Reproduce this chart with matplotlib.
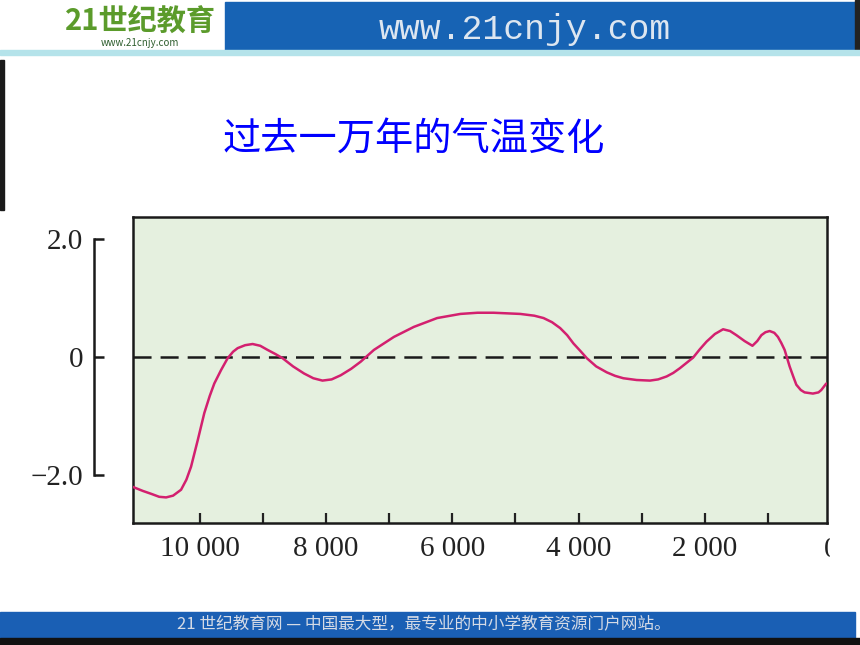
import matplotlib.pyplot as plt
from matplotlib.patches import Rectangle
import numpy as np

plt.rcParams['font.family'] = ['Noto Sans CJK SC', 'DejaVu Sans']
plt.rcParams['lines.scale_dashes'] = False

# years before present and temperature anomaly
years = [11063, 10900, 10766, 10640, 10531, 10420, 10294, 10210, 10136, 10030,
         9926, 9840, 9768, 9660, 9556, 9470, 9398, 9280, 9161, 9040,
         8924, 8800, 8687, 8520, 8346, 8200, 8055, 7910, 7766, 7600,
         7450, 7240, 6924, 6608, 6239, 5871, 5600, 5344, 4923, 4700,
         4554, 4420, 4291, 4180, 4081, 3969, 3869, 3720, 3553, 3420,
         3291, 3080, 2869, 2740, 2605, 2500, 2395, 2185, 2080, 1973,
         1840, 1711, 1600, 1500, 1370, 1246, 1170, 1104, 1040, 973,
         900, 842, 790, 736, 657, 600, 551, 480, 420, 289,
         200, 156, 77]
temps = [-2.20, -2.27, -2.32, -2.37, -2.38, -2.35, -2.25, -2.08, -1.86, -1.41,
         -0.95, -0.66, -0.45, -0.22, -0.02, 0.09, 0.15, 0.20, 0.22, 0.19,
         0.12, 0.05, -0.02, -0.16, -0.28, -0.36, -0.40, -0.38, -0.31, -0.20,
         -0.08, 0.12, 0.34, 0.51, 0.66, 0.73, 0.75, 0.75, 0.73, 0.70,
         0.66, 0.59, 0.49, 0.37, 0.23, 0.10, -0.02, -0.16, -0.26, -0.32,
         -0.36, -0.39, -0.40, -0.38, -0.33, -0.27, -0.19, -0.01, 0.13, 0.26,
         0.39, 0.47, 0.44, 0.37, 0.27, 0.19, 0.27, 0.37, 0.42, 0.44,
         0.41, 0.34, 0.24, 0.12, -0.16, -0.33, -0.47, -0.56, -0.60, -0.62,
         -0.60, -0.56, -0.45]

major_ticks = [10000, 8000, 6000, 4000, 2000]
major_labels = ['10 000', '8 000', '6 000', '4 000', '2 000']
minor_ticks = [9000, 7000, 5000, 3000, 1000]
y_ticks = [2.0, 0, -2.0]
y_labels = ['2.0', '0', '\u22122.0']

title = '过去一万年的气温变化'
header_url = 'www.21cnjy.com'
footer = '21 世纪教育网 — 中国最大型，最专业的中小学教育资源门户网站。'

serif = ['Liberation Serif', 'DejaVu Serif']
W, H = 860, 645


def fx(px):
    return px / W


def fy(py):
    return 1 - py / H


fig = plt.figure(figsize=(8.6, 6.45), dpi=100)
fig.patch.set_facecolor('white')

# slide decoration: header band, cyan rule, footer band
fig.patches.append(Rectangle((fx(225), fy(50)), fx(855) - fx(225), 48 / H,
                             transform=fig.transFigure, color='#1763b4', zorder=0))
fig.patches.append(Rectangle((fx(855), fy(52)), 5 / W, 52 / H,
                             transform=fig.transFigure, color='#222222', zorder=0))
fig.patches.append(Rectangle((0, fy(55)), 1, 5 / H,
                             transform=fig.transFigure, color='#b5e3ea', zorder=0))
fig.patches.append(Rectangle((0, fy(210)), 4 / W, 150 / H,
                             transform=fig.transFigure, color='#1a1a1a', zorder=0))
fig.patches.append(Rectangle((0, fy(638)), fx(855), 26 / H,
                             transform=fig.transFigure, color='#1a5fb4', zorder=0))
fig.patches.append(Rectangle((0, 0), 1, 7 / H,
                             transform=fig.transFigure, color='#111111', zorder=0))

fig.text(fx(140), fy(22), '21世纪教育', color='#5b9b2b', fontsize=21,
         fontweight='bold', style='italic', ha='center', va='center')
fig.text(fx(140), fy(43), header_url, color='#2e5e2e', fontsize=7,
         style='italic', ha='center', va='center')
fig.text(fx(525), fy(30), header_url, color='#dde6f0', fontsize=25,
         family=['Liberation Mono', 'DejaVu Sans Mono'], ha='center', va='center')
fig.text(fx(424), fy(624), footer, color='#d5dbe6', fontsize=12,
         ha='center', va='center')

fig.text(fx(414), fy(139), title, color='#0000ff', fontsize=27.5,
         ha='center', va='center')

# main chart
ylim = (-2.819, 2.378)
ax = fig.add_axes([fx(132.7), fy(523.3), fx(826.7) - fx(132.7), fy(216.7) - fy(523.3)])
ax.set_facecolor('#e5f0df')
ax.plot(years, temps, color='#d3206f', lw=1.8, solid_capstyle='round', zorder=3)
ax.axhline(0, color='#1a1a1a', lw=1.8, dashes=(13, 6.5), zorder=2)
ax.set_xlim(11060, 70)
ax.set_ylim(*ylim)
ax.set_yticks([])
ax.set_xticks(major_ticks)
ax.set_xticklabels(major_labels, family=serif, fontsize=21, color='#222222')
ax.set_xticks(minor_ticks, minor=True)
ax.tick_params(axis='x', which='both', direction='in', length=7.2, width=1.6,
               color='#222222', pad=9)
for s in ax.spines.values():
    s.set_linewidth(1.8)
    s.set_color('#1a1a1a')

# the "0" label at the cropped right edge
ax.text(0, -0.045, '0', transform=ax.get_xaxis_transform(), family=serif,
        fontsize=21, color='#222222', ha='center', va='top')
fig.patches.append(Rectangle((fx(830), fy(590)), 30 / W, 62 / H,
                             transform=fig.transFigure, color='white', zorder=10))

# separate bracket-style y axis on the left
ay = fig.add_axes([fx(94), fy(523.3), 0.001, fy(216.7) - fy(523.3)])
ay.set_ylim(*ylim)
ay.patch.set_visible(False)
for k in ['top', 'right', 'bottom']:
    ay.spines[k].set_visible(False)
ay.spines['left'].set_bounds(-2.0, 2.0)
ay.spines['left'].set_linewidth(1.8)
ay.spines['left'].set_color('#1a1a1a')
ay.set_xticks([])
ay.set_yticks(y_ticks)
ay.set_yticklabels(y_labels, family=serif, fontsize=21, color='#222222')
ay.tick_params(axis='y', direction='in', length=7.2, width=1.8,
               color='#1a1a1a', pad=8)

plt.savefig('out.png', dpi=100)
